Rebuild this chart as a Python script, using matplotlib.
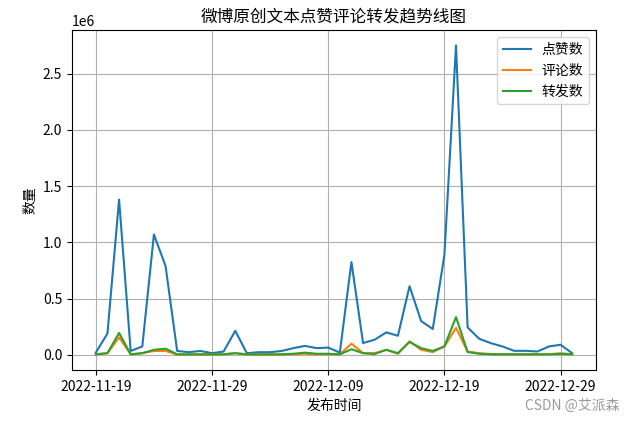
import matplotlib
matplotlib.use("Agg")
import matplotlib.pyplot as plt
import matplotlib.dates as mdates
import pandas as pd

plt.rcParams['font.family'] = ['Noto Sans CJK SC', 'DejaVu Sans']
plt.rcParams['axes.unicode_minus'] = False

dates = pd.date_range('2022-11-19', '2022-12-30', freq='D')
likes = [0.02, 0.19, 1.38, 0.035, 0.075, 1.07, 0.79, 0.035, 0.024, 0.035,
         0.015, 0.03, 0.214, 0.015, 0.024, 0.024, 0.035, 0.06, 0.08, 0.06,
         0.065, 0.02, 0.825, 0.105, 0.135, 0.2, 0.17, 0.61, 0.3, 0.23,
         0.887, 2.75, 0.244, 0.143, 0.104, 0.075, 0.036, 0.036, 0.03, 0.075,
         0.09, 0.015]
comments = [0.005, 0.015, 0.155, 0.005, 0.015, 0.035, 0.035, 0.003, 0.003, 0.003,
            0.003, 0.005, 0.015, 0.003, 0.003, 0.003, 0.003, 0.005, 0.01, 0.005,
            0.005, 0.005, 0.1, 0.015, 0.015, 0.045, 0.01, 0.12, 0.045, 0.025,
            0.075, 0.24, 0.03, 0.015, 0.008, 0.005, 0.005, 0.005, 0.005, 0.005,
            0.015, 0.005]
reposts = [0.005, 0.015, 0.195, 0.005, 0.015, 0.045, 0.055, 0.005, 0.005, 0.005,
           0.005, 0.005, 0.015, 0.005, 0.005, 0.005, 0.005, 0.01, 0.02, 0.01,
           0.01, 0.005, 0.05, 0.015, 0.008, 0.045, 0.015, 0.115, 0.06, 0.035,
           0.075, 0.336, 0.025, 0.01, 0.005, 0.005, 0.005, 0.005, 0.005, 0.005,
           0.008, 0.005]
scale = 1e6
tick_labels = ['2022-11-19', '2022-11-29', '2022-12-09', '2022-12-19', '2022-12-29']

fig = plt.figure(figsize=(6.35, 4.23), dpi=100)
ax = fig.add_axes([0.1134, 0.1253, 0.8252, 0.8037])
ax.plot(dates, [v * scale for v in likes], label='点赞数', color='#1f77b4', linewidth=1.5)
ax.plot(dates, [v * scale for v in comments], label='评论数', color='#ff7f0e', linewidth=1.5)
ax.plot(dates, [v * scale for v in reposts], label='转发数', color='#2ca02c', linewidth=1.5)

ax.set_xticks(pd.to_datetime(tick_labels))
ax.set_xticklabels(tick_labels)
ax.tick_params(labelsize=10)
ax.grid(True)
ax.set_title('微博原创文本点赞评论转发趋势线图', fontsize=12)
ax.set_xlabel('发布时间', fontsize=10)
ax.set_ylabel('数量', fontsize=10)
ax.legend(loc='upper right', fontsize=10)

fig.text(0.975, 0.025, 'CSDN @艾派森', ha='right', va='bottom', fontsize=10, color='#999999')

fig.savefig('out.png', dpi=100)
